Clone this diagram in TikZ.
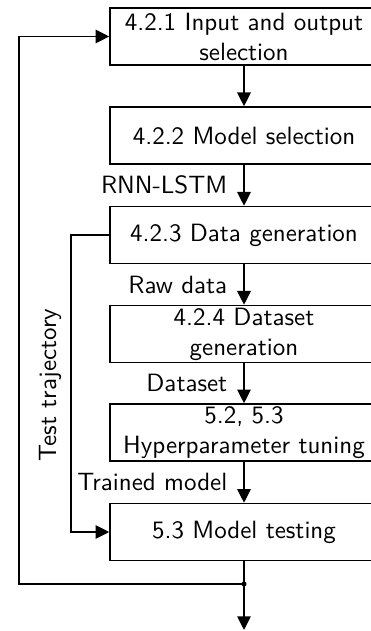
\documentclass[tikz,border=0pt]{standalone}
\usetikzlibrary{arrows.meta}
\begin{document}
\begin{tikzpicture}[x=0.4pt,y=-0.4pt,
  every node/.style={font=\sffamily},
  box/.style={draw, line width=0.6pt, minimum width=107.2pt, minimum height=22.8pt,
    inner sep=0pt, align=center},
  flow/.style={line width=0.6pt, -{Triangle[length=5.5pt,width=5.4pt]}},
  plain/.style={line width=0.6pt},
  lbl/.style={left=6.4pt, inner sep=0pt}]
\useasboundingbox (0,0) rectangle (371,631);

% process steps
\node[box] (b1) at (244,36.5) {4.2.1 Input and output\\selection};
\node[box] (b2) at (244,135.5) {4.2.2 Model selection};
\node[box] (b3) at (244,235) {4.2.3 Data generation};
\node[box] (b4) at (244,334) {4.2.4 Dataset\\generation};
\node[box] (b5) at (244,432.5) {5.2, 5.3\\Hyperparameter tuning};
\node[box] (b6) at (244,532) {5.3 Model testing};

% junction below the last step and the exit
\coordinate (j) at (244,584);
\coordinate (out) at (244,630);
\coordinate (loopcorner) at (19,584);
\coordinate (testcorner) at (71,235);

% main flow
\draw[flow] (b1) -- (b2);
\draw[flow] (b2) -- node[lbl] (l1) {RNN-LSTM} (b3);
\draw[flow] (b3) -- node[lbl] (l2) {Raw data} (b4);
\draw[flow] (b4) -- node[lbl] (l3) {Dataset} (b5);
\draw[flow] (b5) -- node[lbl] (l4) {Trained model} (b6);
\draw[plain] (b6) -- (j);
\draw[flow] (j) -- (out);
\fill (j) circle[radius=1pt];

% feedback loop to the first step
\draw[flow] (j) -- (loopcorner) |- (b1.west);

% test trajectory bypass
\draw[flow] (b3.west) -- (testcorner) |- (b6.west);
\node[rotate=90, anchor=base] (tt) at (56,385) {Test trajectory};
\end{tikzpicture}
\end{document}
